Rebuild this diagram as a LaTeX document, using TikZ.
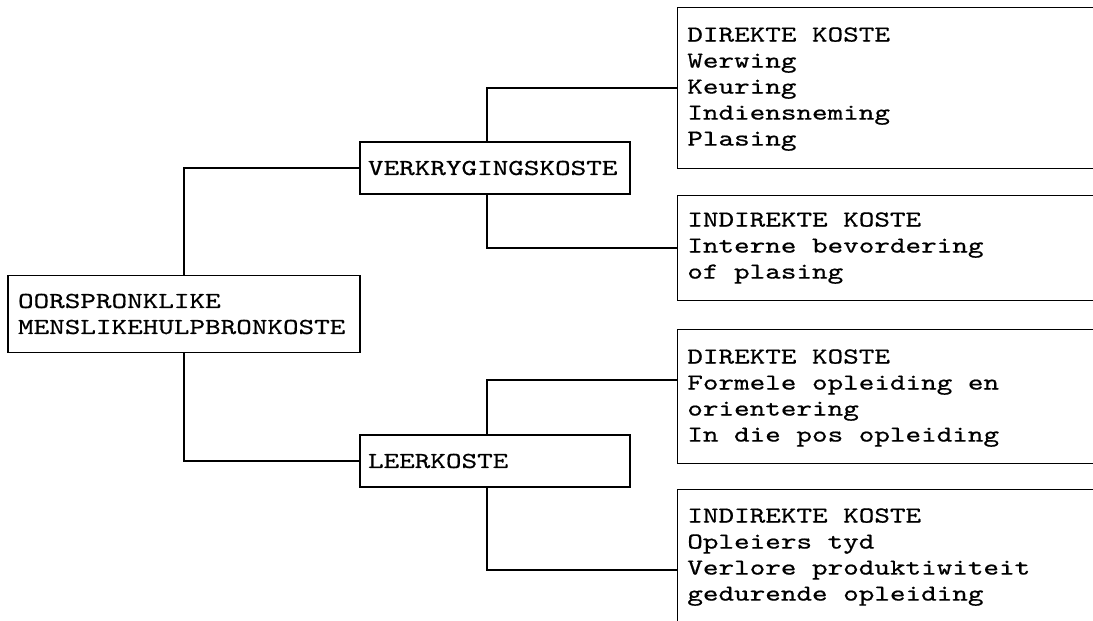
\documentclass[tikz,border=0pt]{standalone}
\usepackage{fontspec}
\setmonofont{lmmono10-regular}[Extension=.otf, FakeStretch=1.3, FakeBold=0.6]
\begin{document}
\begin{tikzpicture}[x=0.02cm, y=-0.02cm,
  every node/.style={font=\ttfamily\fontsize{13pt}{14.8pt}\selectfont, text=black},
  rootBox/.style={draw, line width=0.8pt, rectangle, inner xsep=0.2cm, text width=6.64cm, align=left, minimum height=1.54cm},
  midBox/.style={draw, line width=0.8pt, rectangle, inner xsep=0.16cm, text width=5.08cm, align=left, minimum height=1.04cm},
  costBox/.style={draw, line width=0.8pt, rectangle, anchor=north west, minimum width=8.66cm, inner sep=0pt},
  costText/.style={anchor=north west, inner sep=0pt, align=left},
  link/.style={line width=0.8pt}]

% Page frame (right boxes run off the edge)
\useasboundingbox (0,0) rectangle (1093,620);
\clip (0,0) rectangle (1093,620);

% Root
\node[rootBox] (root) at (184,314) {OORSPRONKLIKE\\MENSLIKEHULPBRONKOSTE};

% Second level
\node[midBox] (verk) at (495,168) {VERKRYGINGSKOSTE};
\node[midBox] (leer) at (495,461) {LEERKOSTE};

% Cost boxes (open at the right)
\node[costBox, minimum height=3.22cm] (d1) at (677,7) {};
\node[costText] (d1txt) at ([xshift=0.2cm, yshift=-0.4cm]d1.north west)
  {DIREKTE KOSTE\\Werwing\\Keuring\\Indiensneming\\Plasing};

\node[costBox, minimum height=2.1cm] (i1) at (677,195) {};
\node[costText] (i1txt) at ([xshift=0.2cm, yshift=-0.34cm]i1.north west)
  {INDIREKTE KOSTE\\Interne bevordering\\of plasing};

\node[costBox, minimum height=2.68cm] (d2) at (677,329) {};
\node[costText] (d2txt) at ([xshift=0.2cm, yshift=-0.4cm]d2.north west)
  {DIREKTE KOSTE\\Formele opleiding en\\orientering\\In die pos opleiding};

\node[costBox, minimum height=3.4cm] (i2) at (677,489) {};
\node[costText] (i2txt) at ([xshift=0.2cm, yshift=-0.38cm]i2.north west)
  {INDIREKTE KOSTE\\Opleiers tyd\\Verlore produktiwiteit\\gedurende opleiding};

% Connectors
\draw[link] (root.north) |- (verk.west);
\draw[link] (root.south) |- (leer.west);
\draw[link] ([xshift=-0.16cm]verk.north) |- (d1.west);
\draw[link] ([xshift=-0.16cm]verk.south) |- (i1.west);
\draw[link] ([xshift=-0.16cm]leer.north) |- ([yshift=-1.02cm]d2.north west);
\draw[link] ([xshift=-0.16cm]leer.south) |- ([yshift=-1.62cm]i2.north west);

\end{tikzpicture}
\end{document}
